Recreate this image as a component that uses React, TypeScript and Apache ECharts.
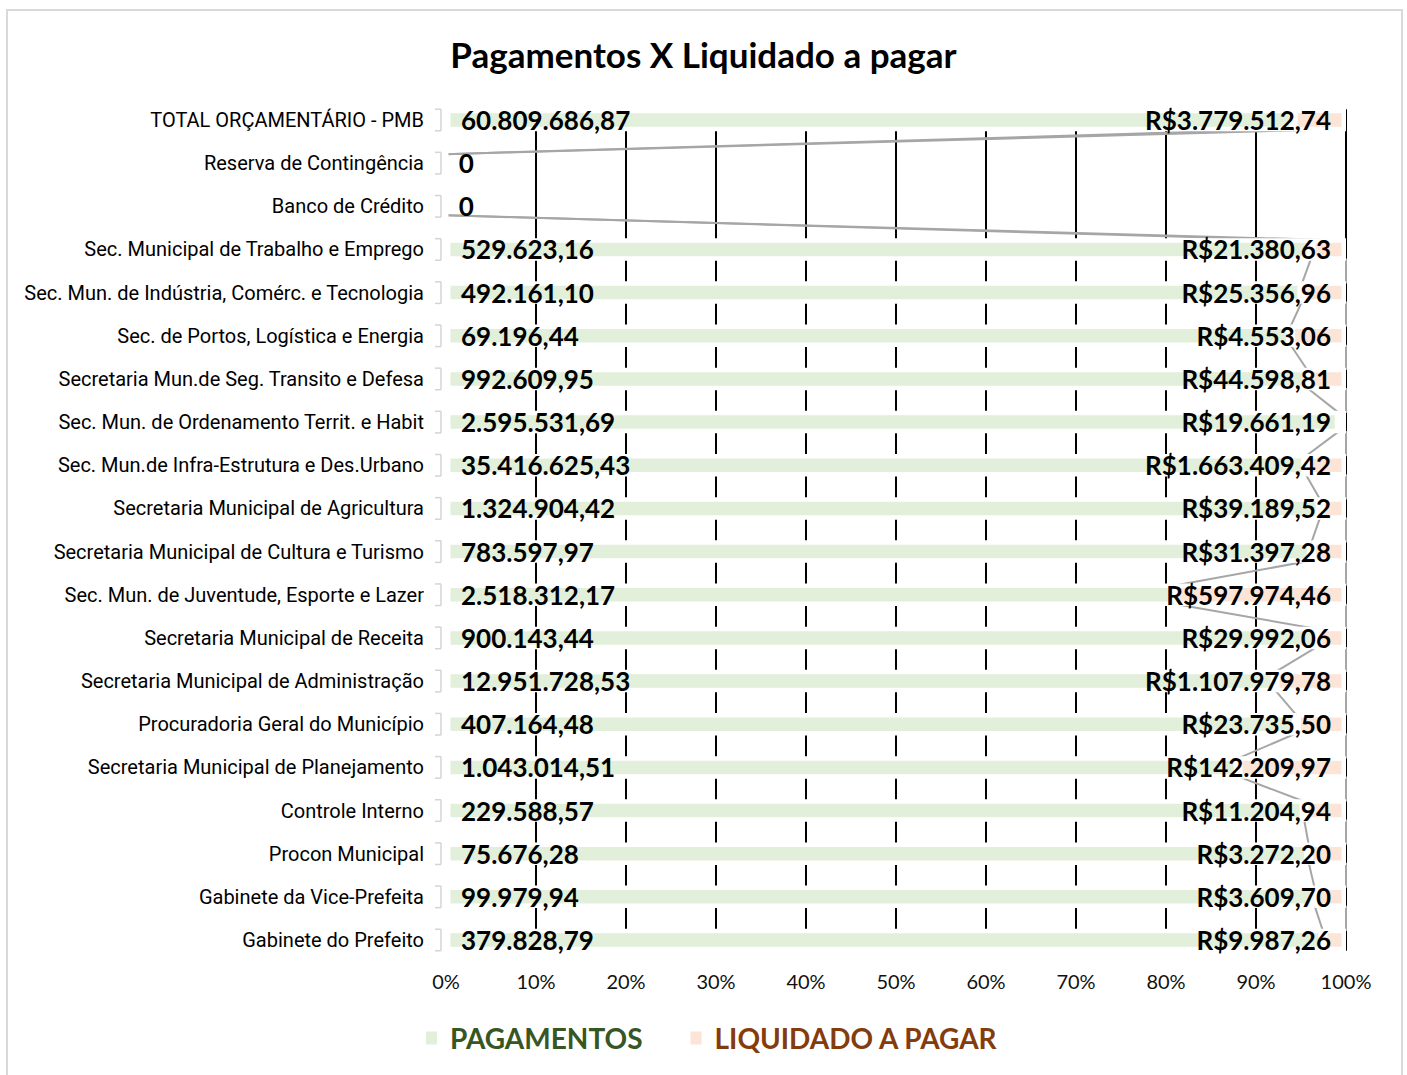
import React, { useEffect, useRef } from 'react';
import * as echarts from 'echarts';

const categories = [
  'TOTAL ORÇAMENTÁRIO - PMB',
  'Reserva de Contingência',
  'Banco de Crédito',
  'Sec. Municipal de Trabalho e Emprego',
  'Sec. Mun. de Indústria, Comérc. e Tecnologia',
  'Sec. de Portos, Logística e Energia',
  'Secretaria Mun.de Seg. Transito e Defesa',
  'Sec. Mun. de Ordenamento Territ. e Habit',
  'Sec. Mun.de Infra-Estrutura e Des.Urbano',
  'Secretaria Municipal de Agricultura',
  'Secretaria Municipal de Cultura e Turismo',
  'Sec. Mun. de Juventude, Esporte e Lazer',
  'Secretaria Municipal de Receita',
  'Secretaria Municipal de Administração',
  'Procuradoria Geral do Município',
  'Secretaria Municipal de Planejamento',
  'Controle Interno',
  'Procon Municipal',
  'Gabinete da Vice-Prefeita',
  'Gabinete do Prefeito',
];

const pagamentos = [
  60809686.87, 0, 0, 529623.16, 492161.1, 69196.44, 992609.95, 2595531.69,
  35416625.43, 1324904.42, 783597.97, 2518312.17, 900143.44, 12951728.53,
  407164.48, 1043014.51, 229588.57, 75676.28, 99979.94, 379828.79,
];

const liquidado = [
  3779512.74, 0, 0, 21380.63, 25356.96, 4553.06, 44598.81, 19661.19,
  1663409.42, 39189.52, 31397.28, 597974.46, 29992.06, 1107979.78,
  23735.5, 142209.97, 11204.94, 3272.2, 3609.7, 9987.26,
];

const seriesNames = ['PAGAMENTOS', 'LIQUIDADO A PAGAR'];

function fmtBR(v: number): string {
  if (v === 0) return '0';
  const [i, d] = v.toFixed(2).split('.');
  return i.replace(/\B(?=(\d{3})+(?!\d))/g, '.') + ',' + d;
}

export default function App() {
  const ref = useRef<HTMLDivElement>(null);

  useEffect(() => {
    if (!ref.current) return;
    const chart = echarts.init(ref.current, null, { renderer: 'svg' });

    const totals = pagamentos.map((p, i) => p + liquidado[i]);
    const pagPct = pagamentos.map((p, i) => (totals[i] ? (p / totals[i]) * 100 : 0));
    const liqPct = liquidado.map((l, i) => (totals[i] ? (l / totals[i]) * 100 : 0));
    const endPct = totals.map((t) => (t ? 100 : 0));

    const linkData: number[][] = [];
    for (let i = 0; i < categories.length - 1; i++) {
      if (totals[i] === 0 && totals[i + 1] === 0) continue;
      linkData.push([pagPct[i], i, pagPct[i + 1], endPct[i], endPct[i + 1]]);
    }
    const axisData = categories.map((_, i) => [0, i]);

    const labelFont = 'Lato, "Open Sans", sans-serif';

    const option: any = {
      animation: false,
      backgroundColor: '#fff',
      title: {
        text: 'Pagamentos X Liquidado a pagar',
        left: 'center',
        top: 31,
        textStyle: { fontFamily: labelFont, fontWeight: 'bold', fontSize: 35, color: '#000' },
      },
      legend: {
        left: 421,
        top: 1019,
        itemWidth: 11,
        itemHeight: 13,
        itemGap: 48,
        icon: 'rect',
        itemStyle: { borderWidth: 0 },
        textStyle: { fontFamily: labelFont, fontWeight: 'bold', fontSize: 28, padding: [0, 0, 0, 8] },
        data: [
          { name: seriesNames[0], textStyle: { color: '#375623' } },
          { name: seriesNames[1], textStyle: { color: '#843c0c' } },
        ],
      },
      graphic: [
        {
          type: 'rect',
          shape: { x: 7, y: 10, width: 1395, height: 1100 },
          style: { fill: 'none', stroke: '#d9d9d9', lineWidth: 2 },
          silent: true,
        },
      ],
      grid: [
        { left: 446, right: 61, top: 98.4, height: 863.2, containLabel: false },
        { left: 446, right: 61, top: 109.2, height: 841.6, containLabel: false },
      ],
      xAxis: [
        {
          type: 'value',
          gridIndex: 0,
          min: 0,
          max: 100,
          interval: 10,
          axisLine: { show: false },
          axisTick: { show: false },
          splitLine: { show: false },
          axisLabel: {
            formatter: '{value}%',
            fontFamily: labelFont,
            fontSize: 20,
            color: '#111',
            margin: 9,
          },
        },
        {
          type: 'value',
          gridIndex: 1,
          min: 0,
          max: 100,
          interval: 10,
          axisLine: { show: false },
          axisTick: { show: false },
          axisLabel: { show: false },
          splitLine: {
            show: true,
            showMinLine: false,
            lineStyle: { color: '#000', width: 2 },
          },
        },
      ],
      yAxis: [
        {
          type: 'category',
          gridIndex: 0,
          inverse: true,
          data: categories,
          axisLine: { show: false },
          axisTick: { show: false },
          axisLabel: {
            fontFamily: 'Roboto, sans-serif',
            fontSize: 20,
            color: '#000',
            margin: 22,
          },
        },
        { type: 'value', gridIndex: 1, show: false, min: 0, max: 1 },
      ],
      series: [
        {
          name: seriesNames[0],
          type: 'bar',
          stack: 'total',
          xAxisIndex: 0,
          yAxisIndex: 0,
          barWidth: 22.5,
          z: 2,
          data: pagPct,
          itemStyle: { color: '#e2efda', borderColor: '#ffffff', borderWidth: 4.5 },
          label: {
            show: true,
            position: 'insideLeft',
            distance: 15,
            formatter: (p: any) => fmtBR(pagamentos[p.dataIndex]),
            fontFamily: labelFont,
            fontWeight: 'bold',
            fontSize: 26,
            color: '#000',
          },
        },
        {
          name: seriesNames[1],
          type: 'bar',
          stack: 'total',
          xAxisIndex: 0,
          yAxisIndex: 0,
          barWidth: 22.5,
          z: 2,
          data: liqPct,
          itemStyle: { color: '#fce4d6', borderColor: '#ffffff', borderWidth: 4.5 },
          label: {
            show: true,
            position: 'insideRight',
            distance: 15,
            formatter: (p: any) =>
              liquidado[p.dataIndex] ? 'R$' + fmtBR(liquidado[p.dataIndex]) : '',
            fontFamily: labelFont,
            fontWeight: 'bold',
            fontSize: 26,
            color: '#000',
          },
        },
        {
          name: 'seriesLines',
          type: 'custom',
          xAxisIndex: 0,
          yAxisIndex: 0,
          z: 2,
          silent: true,
          encode: { x: 0, y: 1 },
          data: linkData,
          renderItem: (params: any, api: any) => {
            const i = api.value(1);
            const half = 9;
            const a1 = api.coord([api.value(0), i]);
            const a2 = api.coord([api.value(2), i + 1]);
            const b1 = api.coord([api.value(3), i]);
            const b2 = api.coord([api.value(4), i + 1]);
            const style = { stroke: '#a6a6a6', lineWidth: 2 };
            return {
              type: 'group',
              children: [
                { type: 'line', shape: { x1: a1[0], y1: a1[1] + half, x2: a2[0], y2: a2[1] - half }, style },
                { type: 'line', shape: { x1: b1[0], y1: b1[1] + half, x2: b2[0], y2: b2[1] - half }, style },
              ],
            };
          },
        },
        {
          name: 'catAxis',
          type: 'custom',
          xAxisIndex: 0,
          yAxisIndex: 0,
          z: 1,
          silent: true,
          encode: { x: 0, y: 1 },
          data: axisData,
          renderItem: (params: any, api: any) => {
            const i = api.value(1);
            const c = api.coord([0, i]);
            const band = api.size([0, 1])[1];
            const q = band / 4;
            const x = c[0] - 5;
            const style = { stroke: '#d4d4d4', lineWidth: 1.5 };
            return {
              type: 'group',
              children: [
                { type: 'line', shape: { x1: x, y1: c[1] - q, x2: x, y2: c[1] + q }, style },
                { type: 'line', shape: { x1: x - 6, y1: c[1] - q, x2: x, y2: c[1] - q }, style },
                { type: 'line', shape: { x1: x - 6, y1: c[1] + q, x2: x, y2: c[1] + q }, style },
              ],
            };
          },
        },
      ],
    };

    chart.setOption(option);
    return () => chart.dispose();
  }, []);

  return (
    <div
      ref={ref}
      style={{ position: 'fixed', left: 0, top: 0, width: 1407, height: 1075 }}
    />
  );
}
